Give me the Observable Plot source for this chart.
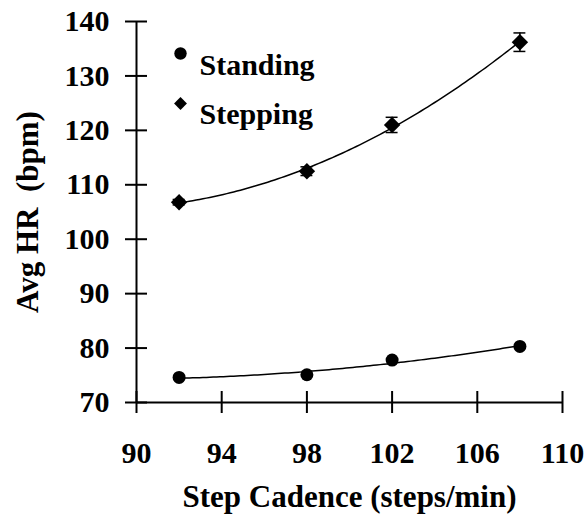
<!DOCTYPE html>
<html>
<head>
<meta charset="utf-8">
<script src="https://cdn.jsdelivr.net/npm/d3@7"></script>
<script src="https://cdn.jsdelivr.net/npm/@observablehq/plot@0.6"></script>
<style>
  html, body { margin: 0; padding: 0; background: #fff; }
  #chart svg { display: block; }
</style>
</head>
<body>
<div id="chart"></div>
<script>
// Data
const cadence = [92, 98, 102, 108];
const standingHR = [74.6, 75.1, 77.8, 80.3];
const standingErr = [0.4, 0.4, 0.4, 0.5];
const steppingHR = [106.8, 112.5, 121.0, 136.2];
const steppingErr = [0.5, 0.8, 1.4, 1.7];
const xTicks = [90, 94, 98, 102, 106, 110];
const yTicks = [70, 80, 90, 100, 110, 120, 130, 140];
const seriesNames = ["Standing", "Stepping"];

const FONT = "'Liberation Serif', 'Times New Roman', serif";

const standing = cadence.map((x, i) => ({x, y: standingHR[i], e: standingErr[i]}));
const stepping = cadence.map((x, i) => ({x, y: steppingHR[i], e: steppingErr[i]}));

// Quadratic least-squares trendline (derived from the data)
function quadFit(pts) {
  let S = [0,0,0,0,0], T = [0,0,0];
  for (const p of pts) {
    for (let k = 0; k < 5; k++) S[k] += Math.pow(p.x, k);
    for (let k = 0; k < 3; k++) T[k] += Math.pow(p.x, k) * p.y;
  }
  const A = [[S[0],S[1],S[2],T[0]],[S[1],S[2],S[3],T[1]],[S[2],S[3],S[4],T[2]]];
  for (let i = 0; i < 3; i++) {
    for (let j = i+1; j < 3; j++) {
      const f = A[j][i] / A[i][i];
      for (let k = i; k < 4; k++) A[j][k] -= f * A[i][k];
    }
  }
  const c = [0,0,0];
  for (let i = 2; i >= 0; i--) {
    let s = A[i][3];
    for (let k = i+1; k < 3; k++) s -= A[i][k] * c[k];
    c[i] = s / A[i][i];
  }
  const x0 = d3.min(pts, d => d.x), x1 = d3.max(pts, d => d.x);
  return d3.range(0, 101).map(t => {
    const x = x0 + (x1 - x0) * t / 100;
    return {x, y: c[0] + c[1]*x + c[2]*x*x};
  });
}
const standingFit = quadFit(standing);
const steppingFit = quadFit(stepping);

const W = 588, H = 517, ML = 136, MR = 26, MT = 21, MB = 115;
const frameW = W - ML - MR, frameH = H - MT - MB;
const TICK = 11;

const chart = Plot.plot({
  width: W,
  height: H,
  marginLeft: ML,
  marginRight: MR,
  marginTop: MT,
  marginBottom: MB,
  style: {fontFamily: FONT, fontWeight: "bold", fontSize: "30px", color: "#000", background: "#fff"},
  x: {domain: [90, 110]},
  y: {domain: [70, 140]},
  marks: [
    // axis lines
    Plot.ruleY([70], {stroke: "#000", strokeWidth: 2}),
    Plot.ruleX([90], {stroke: "#000", strokeWidth: 2}),
    // tick marks crossing the axes
    Plot.tickX(xTicks, {x: d => d, insetTop: frameH - TICK, insetBottom: -TICK, stroke: "#000", strokeWidth: 2}),
    Plot.tickY(yTicks, {y: d => d, insetLeft: -TICK, insetRight: frameW - TICK, stroke: "#000", strokeWidth: 2}),
    // tick labels
    Plot.axisX({ticks: xTicks, tickSize: 0, tickPadding: 39, label: null, fontSize: 30, fontWeight: "bold"}),
    Plot.axisY({ticks: yTicks, tickSize: 0, tickPadding: 27, label: null, fontSize: 30, fontWeight: "bold"}),
    // trendlines
    Plot.line(standingFit, {x: "x", y: "y", stroke: "#000", strokeWidth: 1.5}),
    Plot.line(steppingFit, {x: "x", y: "y", stroke: "#000", strokeWidth: 1.5}),
    // error bars
    Plot.ruleX(stepping, {x: "x", y1: d => d.y - d.e, y2: d => d.y + d.e, stroke: "#000", strokeWidth: 1.5}),
    Plot.ruleY(stepping, {y: d => d.y - d.e, x1: d => d.x - 0.28, x2: d => d.x + 0.28, stroke: "#000", strokeWidth: 1.5}),
    Plot.ruleY(stepping, {y: d => d.y + d.e, x1: d => d.x - 0.28, x2: d => d.x + 0.28, stroke: "#000", strokeWidth: 1.5}),
    Plot.ruleX(standing, {x: "x", y1: d => d.y - d.e, y2: d => d.y + d.e, stroke: "#000", strokeWidth: 1.5}),
    // points
    Plot.dot(standing, {x: "x", y: "y", r: 6.5, fill: "#000", symbol: "circle"}),
    Plot.dot(stepping, {x: "x", y: "y", r: 7.4, fill: "#000", symbol: "diamond2"}),
    // legend
    Plot.dot([seriesNames[0]], {frameAnchor: "top-left", dx: 44, dy: 32, r: 6.2, fill: "#000", symbol: "circle"}),
    Plot.dot([seriesNames[1]], {frameAnchor: "top-left", dx: 44, dy: 82, r: 5.8, fill: "#000", symbol: "diamond2"}),
    Plot.text([seriesNames[0]], {text: d => d, frameAnchor: "top-left", dx: 63, dy: 32, textAnchor: "start", fontSize: 30, fontWeight: "bold"}),
    Plot.text([seriesNames[1]], {text: d => d, frameAnchor: "top-left", dx: 63, dy: 81, textAnchor: "start", fontSize: 30, fontWeight: "bold"}),
    // axis titles
    Plot.text(["Avg HR\u00a0 (bpm)"], {text: d => d, frameAnchor: "left", textAnchor: "middle", dx: -108, rotate: -90, fontSize: 31, fontWeight: "bold"}),
    Plot.text(["Step Cadence (steps/min)"], {text: d => d, frameAnchor: "bottom", textAnchor: "middle", dy: 104, fontSize: 31, fontWeight: "bold"})
  ]
});
document.getElementById("chart").appendChild(chart);
</script>
</body>
</html>
